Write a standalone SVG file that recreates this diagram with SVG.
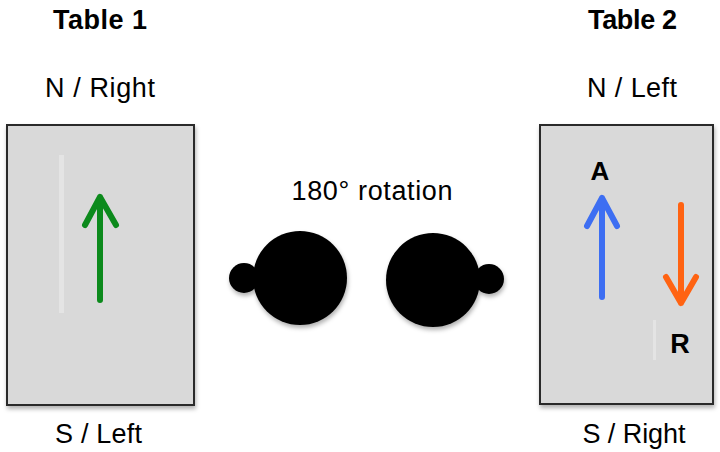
<svg xmlns="http://www.w3.org/2000/svg" width="720" height="452" viewBox="0 0 720 452">
<style>
.t{font-family:"Liberation Sans",Arial,sans-serif;font-size:27px;fill:#000;text-anchor:middle}
.b{font-weight:bold;font-size:27px}
.tbl{fill:#d9d9d9;stroke:#2b2b2b;stroke-width:2}
.arr{fill:none;stroke-width:6;stroke-linecap:round;stroke-linejoin:round}
</style>
<defs>
<filter id="sh" x="-10%" y="-10%" width="120%" height="120%">
<feDropShadow dx="1" dy="3" stdDeviation="2" flood-color="#000" flood-opacity="0.3"/>
</filter>
</defs>
<g id="table1">
<text class="t b" x="100" y="29" textLength="94">Table 1</text>
<text class="t" x="100" y="97" textLength="110">N / Right</text>
<rect class="tbl" x="7" y="125" width="187" height="280" filter="url(#sh)"/>
<rect x="59" y="155" width="5" height="158" fill="#e4e4e4"/>
<path class="arr" stroke="#0c8a1c" d="M100 300V197M85 225L100 197L116 225"/>
<text class="t" x="98.5" y="443" textLength="87">S / Left</text>
</g>
<g id="table2">
<text class="t b" x="632.5" y="29" textLength="89">Table 2</text>
<text class="t" x="632" y="97" textLength="90">N / Left</text>
<rect class="tbl" x="540" y="125" width="173" height="279" filter="url(#sh)"/>
<text class="t b" x="600" y="180" style="font-size:26px">A</text>
<path class="arr" stroke="#3d6ef2" d="M602 297V198M587 226L602 198L617 226"/>
<path class="arr" stroke="#ff6312" d="M681 205V303M666 277L681 303L696 277"/>
<rect x="653" y="320" width="3" height="40" fill="#e4e4e4"/>
<text class="t b" x="680" y="353" style="font-size:27px">R</text>
<text class="t" x="634" y="443" textLength="103">S / Right</text>
</g>
<g id="rotation">
<text class="t" x="372" y="200" style="font-size:27px" textLength="161">180° rotation</text>
<g filter="url(#sh)">
<circle cx="300" cy="278" r="47" fill="#000"/>
<circle cx="244" cy="278" r="15" fill="#000"/>
<circle cx="433" cy="280" r="47" fill="#000"/>
<circle cx="489" cy="279" r="15" fill="#000"/>
</g>
</g>
</svg>
